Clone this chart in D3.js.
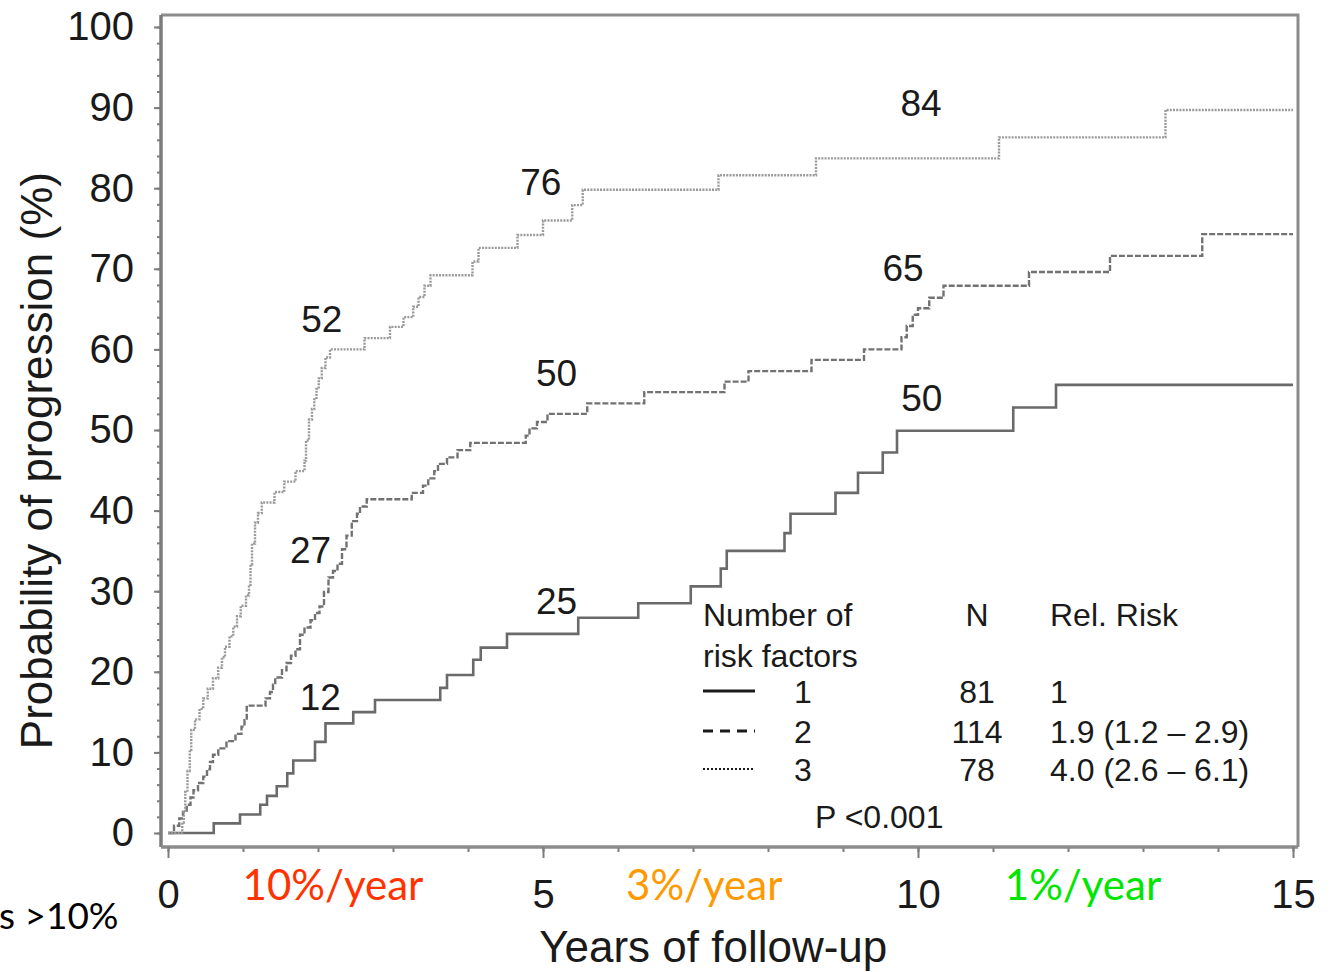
<!DOCTYPE html>
<html lang="en">
<head>
  <meta charset="UTF-8">
  <title>Probability of progression</title>
  <script src="https://cdnjs.cloudflare.com/ajax/libs/d3/7.8.5/d3.min.js"></script>
  <style>
    body { margin: 0; background: #fff; }
    svg { display: block; }
  </style>
</head>
<body>
  <script>
    // risk groups shown in the legend
    const riskGroups = ['1', '2', '3']
    const groupN = ['81', '114', '78']
    const relRisk = ['1', '1.9 (1.2 \u2013 2.9)', '4.0 (2.6 \u2013 6.1)']

    // Kaplan-Meier steps (years, % progressed)
    const times1 = [0, 0.61, 0.96, 1.23, 1.32, 1.45, 1.59, 1.67, 1.96, 2.1, 2.47, 2.76, 3.63, 3.72, 4.07, 4.17, 4.52, 5.47, 6.27, 6.97, 7.37, 7.45, 8.22, 8.3, 8.9, 9.2, 9.53, 9.72, 11.27, 11.84, 15]
    const prob1 = [0, 1.2, 2.3, 3.5, 4.6, 5.8, 7.4, 9.0, 11.3, 13.6, 15.0, 16.5, 18.0, 19.6, 21.5, 23.0, 24.7, 26.7, 28.5, 30.6, 32.8, 35.0, 37.2, 39.6, 42.2, 44.7, 47.2, 49.9, 52.8, 55.6, 55.6]

    const times2 = [0, 0.08, 0.15, 0.2, 0.25, 0.3, 0.34, 0.4, 0.47, 0.52, 0.56, 0.6, 0.67, 0.78, 0.9, 0.98, 1.02, 1.05, 1.3, 1.36, 1.4, 1.43, 1.52, 1.58, 1.64, 1.7, 1.76, 1.82, 1.9, 1.96, 2.02, 2.08, 2.14, 2.2, 2.26, 2.32, 2.38, 2.45, 2.52, 2.56, 2.65, 3.25, 3.4, 3.47, 3.55, 3.6, 3.72, 3.86, 4.03, 4.77, 4.82, 4.92, 5.06, 5.59, 6.35, 7.42, 7.74, 8.58, 9.28, 9.78, 9.85, 9.93, 10.0, 10.15, 10.34, 11.48, 12.56, 13.79, 15]
    const prob2 = [0, 0.9, 1.8, 2.6, 3.5, 4.4, 5.3, 6.2, 7.0, 7.9, 8.8, 9.7, 10.5, 11.4, 12.3, 13.2, 14.0, 15.8, 16.7, 17.5, 18.4, 19.3, 20.2, 21.1, 22.0, 22.8, 24.6, 25.5, 26.4, 27.3, 28.1, 29.9, 31.7, 32.5, 33.4, 35.2, 36.9, 38.7, 39.6, 40.5, 41.4, 42.2, 43.1, 44.0, 44.9, 45.8, 46.6, 47.5, 48.4, 49.3, 50.2, 51.0, 52.0, 53.3, 54.7, 56.0, 57.3, 58.7, 60.0, 61.5, 62.9, 64.3, 65.1, 66.4, 67.9, 69.6, 71.6, 74.3, 74.3]

    const times3 = [0, 0.19, 0.21, 0.23, 0.26, 0.29, 0.31, 0.36, 0.42, 0.47, 0.53, 0.6, 0.67, 0.72, 0.76, 0.82, 0.87, 0.92, 0.97, 1.04, 1.08, 1.1, 1.12, 1.16, 1.2, 1.25, 1.42, 1.55, 1.7, 1.82, 1.84, 1.88, 1.92, 1.95, 1.98, 2.01, 2.05, 2.1, 2.16, 2.62, 2.96, 3.14, 3.27, 3.34, 3.42, 3.5, 4.06, 4.14, 4.66, 5.0, 5.39, 5.53, 7.34, 8.64, 11.08, 13.3, 15]
    const prob3 = [0, 1.3, 2.6, 5.1, 7.7, 10.3, 12.8, 14.1, 15.4, 16.7, 17.9, 19.2, 20.5, 21.8, 23.1, 24.4, 25.6, 26.9, 28.2, 29.5, 30.8, 33.3, 35.9, 38.5, 39.7, 41.0, 42.3, 43.6, 44.9, 46.2, 48.7, 51.3, 52.6, 53.8, 55.1, 56.4, 57.7, 59.0, 60.0, 61.4, 62.8, 64.0, 65.3, 66.5, 67.9, 69.2, 70.9, 72.6, 74.2, 76.0, 77.9, 79.8, 81.6, 83.7, 86.3, 89.7, 89.7]

    // numbers written on the curves at 2, 5 and 10 years
    const labels1 = ['12', '25', '50']
    const labels2 = ['27', '50', '65']
    const labels3 = ['52', '76', '84']

    const xTickLabels = [0, 5, 10, 15]
    const yTickLabels = [0, 10, 20, 30, 40, 50, 60, 70, 80, 90, 100]
    const rateText = ['10%/year', '3%/year', '1%/year']
    const rateColor = ['#ff3300', '#ff9900', '#00e600']

    const width = 1330
    const height = 972
    const font = "'Liberation Sans', Arial, Helvetica, sans-serif"

    const x = d3.scaleLinear().domain([0, 15]).range([168, 1293])
    const y = d3.scaleLinear().domain([0, 100]).range([833, 27])

    const svg = d3.select('body')
      .append('svg')
      .attr('width', width)
      .attr('height', height)
      .style('font-family', font)

    svg.append('rect').attr('width', width).attr('height', height).attr('fill', '#fff')

    const axisLeftX = 161
    const axisBottomY = 847
    const frameTop = 15
    const frameRight = 1298

    // frame (top and right)
    svg.append('path')
      .attr('d', `M${axisLeftX},${frameTop}H${frameRight}V${axisBottomY}`)
      .attr('fill', 'none')
      .attr('stroke', '#8c8c8c')
      .attr('stroke-width', 3)

    // y axis, minor ticks every 2 %
    const yMinor = svg.append('g')
      .attr('transform', `translate(${axisLeftX},0)`)
      .call(d3.axisLeft(y).tickValues(d3.range(0, 101, 2)).tickSize(4).tickFormat(''))
    const yMajor = svg.append('g')
      .attr('transform', `translate(${axisLeftX},0)`)
      .call(d3.axisLeft(y).tickValues(yTickLabels).tickSize(7).tickPadding(20))
    ;[yMinor, yMajor].forEach(g => {
      g.select('.domain').attr('d', `M0,${frameTop}V${axisBottomY}`).attr('stroke', '#7c7c7c').attr('stroke-width', 3)
      g.selectAll('.tick line').attr('stroke', '#7c7c7c').attr('stroke-width', 2)
    })
    yMajor.selectAll('.tick text')
      .attr('font-size', 40)
      .attr('font-family', font)
      .attr('fill', '#1a1a1a')

    // x axis, minor ticks every year
    const xMinor = svg.append('g')
      .attr('transform', `translate(0,${axisBottomY})`)
      .call(d3.axisBottom(x).tickValues(d3.range(0, 16, 1)).tickSize(5).tickFormat(''))
    const xMajor = svg.append('g')
      .attr('transform', `translate(0,${axisBottomY})`)
      .call(d3.axisBottom(x).tickValues(xTickLabels).tickSize(11).tickPadding(22))
    ;[xMinor, xMajor].forEach(g => {
      g.select('.domain').attr('d', `M${axisLeftX},0H${frameRight}`).attr('stroke', '#8c8c8c').attr('stroke-width', 3)
      g.selectAll('.tick line').attr('stroke', '#7c7c7c').attr('stroke-width', 2)
    })
    xMajor.selectAll('.tick text')
      .attr('font-size', 40)
      .attr('font-family', font)
      .attr('fill', '#1a1a1a')

    // axis titles
    svg.append('text')
      .attr('transform', `translate(52,${y(46.2)}) rotate(-90)`)
      .attr('text-anchor', 'middle')
      .attr('font-size', 44)
      .attr('fill', '#1a1a1a')
      .text('Probability of progression (%)')

    svg.append('text')
      .attr('x', x(7.27))
      .attr('y', 962)
      .attr('text-anchor', 'middle')
      .attr('font-size', 44)
      .attr('fill', '#1a1a1a')
      .text('Years of follow-up')

    // survival curves
    const series = [
      { t: times1, p: prob1, color: '#6a6a6a', dash: null, width: 2.6 },
      { t: times2, p: prob2, color: '#727272', dash: '6,2', width: 2.4 },
      { t: times3, p: prob3, color: '#9a9a9a', dash: '2,1.2', width: 2.4 }
    ]
    const line = d3.line()
      .x(d => x(d[0]))
      .y(d => y(d[1]))
      .curve(d3.curveStepAfter)

    series.forEach(s => {
      svg.append('path')
        .datum(s.t.map((t, i) => [t, s.p[i]]))
        .attr('d', line)
        .attr('fill', 'none')
        .attr('stroke', s.color)
        .attr('stroke-width', s.width)
        .attr('stroke-dasharray', s.dash)
    })

    // values at 2, 5 and 10 years (placement in data units)
    const labelPlace = [
      [[2.03, 15.3], [5.18, 27.2], [10.05, 52.4]],
      [[1.9, 33.5], [5.18, 55.5], [9.8, 68.5]],
      [[2.05, 62.2], [4.97, 79.2], [10.04, 89.0]]
    ]
    ;[labels1, labels2, labels3].forEach((labs, g) => {
      svg.selectAll(null)
        .data(labs)
        .join('text')
        .attr('x', (d, i) => x(labelPlace[g][i][0]))
        .attr('y', (d, i) => y(labelPlace[g][i][1]))
        .attr('text-anchor', 'middle')
        .attr('font-size', 37)
        .attr('fill', '#1a1a1a')
        .text(d => d)
    })

    // legend table
    const legend = svg.append('g').attr('font-size', 32).attr('fill', '#1a1a1a')
    const colSample = 703
    const colGroup = 803
    const colN = 977
    const colRisk = 1050
    const rowY = [703, 743, 781]

    legend.append('text').attr('x', colSample).attr('y', 626).text('Number of')
    legend.append('text').attr('x', colSample).attr('y', 667).text('risk factors')
    legend.append('text').attr('x', colN).attr('y', 626).attr('text-anchor', 'middle').text('N')
    legend.append('text').attr('x', colRisk).attr('y', 626).text('Rel. Risk')

    const sampleDash = [null, '10,7', '2,2']
    riskGroups.forEach((g, i) => {
      const ry = rowY[i]
      legend.append('line')
        .attr('x1', colSample).attr('x2', colSample + 52)
        .attr('y1', ry - 12).attr('y2', ry - 12)
        .attr('stroke', '#1a1a1a')
        .attr('stroke-width', i === 2 ? 2 : 3)
        .attr('stroke-dasharray', sampleDash[i])
      legend.append('text').attr('x', colGroup).attr('y', ry).attr('text-anchor', 'middle').text(g)
      legend.append('text').attr('x', colN).attr('y', ry).attr('text-anchor', 'middle').text(groupN[i])
      legend.append('text').attr('x', colRisk).attr('y', ry).text(relRisk[i])
    })
    legend.append('text').attr('x', 815).attr('y', 828).text('P <0.001')

    // progression rate notes under the axis
    const rateAt = [2.2, 7.15, 12.2]
    svg.selectAll(null)
      .data(rateText)
      .join('text')
      .attr('x', (d, i) => x(rateAt[i]))
      .attr('y', 900)
      .attr('text-anchor', 'middle')
      .attr('font-family', "Lato, 'Open Sans', sans-serif")
      .attr('font-size', 42)
      .attr('fill', (d, i) => rateColor[i])
      .text(d => d)

    svg.append('text')
      .attr('x', -1)
      .attr('y', 929)
      .attr('font-family', "Lato, 'Open Sans', sans-serif")
      .attr('font-size', 37)
      .attr('fill', '#000')
      .text('s >10%')
  </script>
</body>
</html>
